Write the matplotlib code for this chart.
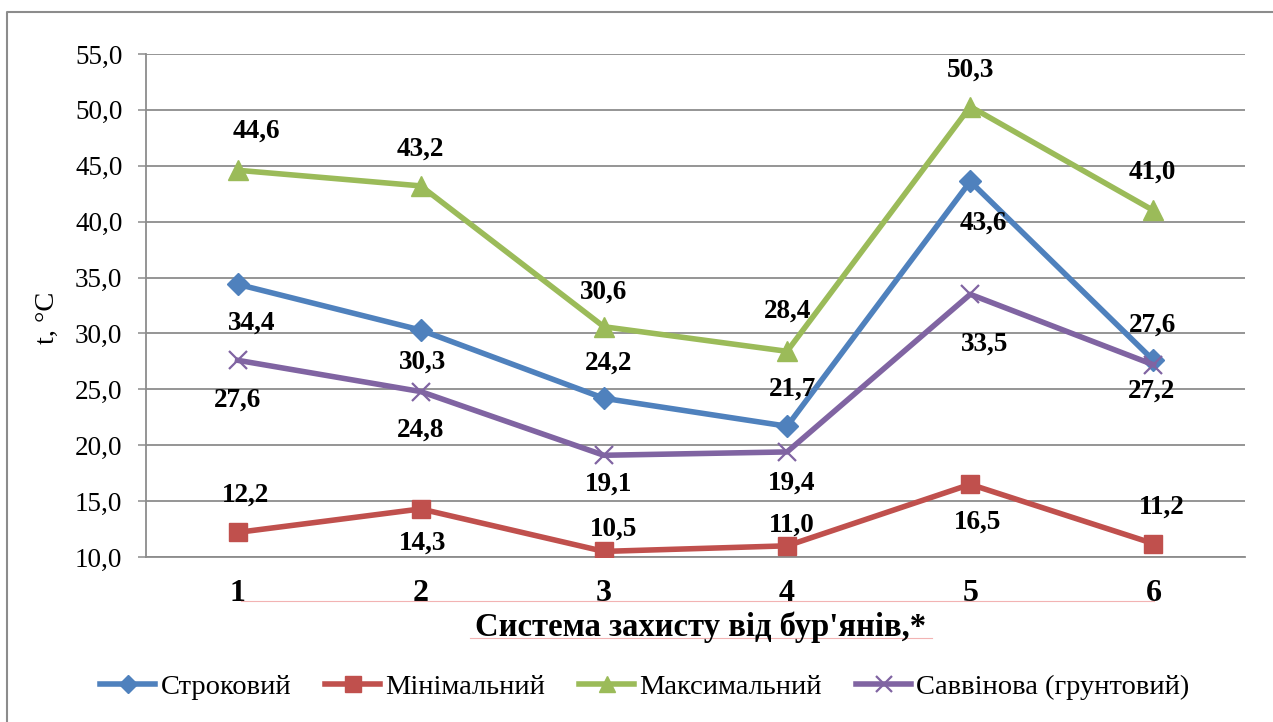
import matplotlib
matplotlib.use("Agg")
import matplotlib.pyplot as plt
from matplotlib.lines import Line2D
from matplotlib.ticker import FuncFormatter

W, H = 1273, 722

categories = ["1", "2", "3", "4", "5", "6"]
names = ["Строковий", "Мінімальний", "Максимальний", "Саввінова (грунтовий)"]

strokovyi = [34.4, 30.3, 24.2, 21.7, 43.6, 27.6]
minimalnyi = [12.2, 14.3, 10.5, 11.0, 16.5, 11.2]
maksymalnyi = [44.6, 43.2, 30.6, 28.4, 50.3, 41.0]
savvinova = [27.6, 24.8, 19.1, 19.4, 33.5, 27.2]

# label offsets in pixels (dx right, dy down)
off_strokovyi = [(14, 39), (2, 32), (5, -35), (5, -37), (13, 42), (-1, -35)]
off_minimalnyi = [(8, -37), (2, 34), (10, -22), (5, -21), (7, 38), (8, -36)]
off_maksymalnyi = [(19, -39), (0, -37), (0, -35), (0, -40), (0, -36), (-1, -38)]
off_savvinova = [(0, 40), (0, 39), (5, 29), (5, 31), (14, 50), (-2, 26)]

colors = ["#4F81BD", "#C0504D", "#9BBB59", "#8064A2"]
GRID = "#8C8C8C"
FONT = "Liberation Serif"

plt.rcParams["font.family"] = [FONT, "DejaVu Serif"]


def fx(px):
    return px / W


def fy(py):
    return 1 - py / H


fig = plt.figure(figsize=(W / 100, H / 100), dpi=100)
ax = fig.add_axes([fx(146), fy(557), fx(1245) - fx(146), fy(54) - fy(557)])

x = list(range(1, len(categories) + 1))
series = [
    (strokovyi, "D", 11, off_strokovyi),
    (minimalnyi, "s", 13, off_minimalnyi),
    (maksymalnyi, "^", 14, off_maksymalnyi),
    (savvinova, "x", 13, off_savvinova),
]

handles = []
for (vals, mk, ms, offs), c, name in zip(series, colors, names):
    mew = 1.6 if mk == "x" else 1
    ln, = ax.plot(x, vals, color=c, lw=4, marker=mk, ms=ms,
                  mec=c, mfc=c, mew=mew, label=name, zorder=3)
    handles.append(ln)
    for xi, v, (dx, dy) in zip(x, vals, offs):
        ax.annotate(f"{v:.1f}".replace(".", ","), (xi, v),
                    xytext=(dx, -dy), textcoords="offset pixels",
                    ha="center", va="center", fontsize=19.5,
                    fontweight="bold", zorder=4)

ax.set_xlim(0.5, len(categories) + 0.5)
ax.set_ylim(10, 55)
ax.set_yticks([10, 15, 20, 25, 30, 35, 40, 45, 50, 55])
ax.yaxis.set_major_formatter(FuncFormatter(lambda v, p: f"{v:.1f}".replace(".", ",")))
ax.set_xticks(x)
ax.set_xticklabels(categories, fontsize=23, fontweight="bold")
ax.grid(axis="y", color=GRID, lw=1.3, zorder=0)
ax.set_axisbelow(True)

for s in ["top", "right"]:
    ax.spines[s].set_visible(False)
for s in ["left", "bottom"]:
    ax.spines[s].set_color(GRID)
    ax.spines[s].set_linewidth(1.3)

ax.tick_params(axis="y", direction="out", length=6, width=1.1, color=GRID,
               labelsize=19.5, pad=11)
ax.tick_params(axis="x", length=0, pad=16)

fig.text(fx(47), fy(318), "t, °C", rotation=90, ha="center", va="center",
         fontsize=20.5)
fig.text(fx(701), fy(627), "Система захисту від бур'янів,*", ha="center",
         va="center", fontsize=23.5, fontweight="bold")

# faint spell-check underlines and outer frame
pink = "#F2B3B3"
fig.add_artist(Line2D([fx(241), fx(1154)], [fy(601), fy(601)], color=pink, lw=0.8))
fig.add_artist(Line2D([fx(470), fx(932)], [fy(638), fy(638)], color=pink, lw=0.8))
fig.add_artist(Line2D([fx(7), fx(7), fx(1273)], [fy(722), fy(12), fy(12)],
                      color=GRID, lw=1.5))

fig.legend(handles=handles, loc="center", bbox_to_anchor=(fx(645), fy(687)),
           ncol=4, frameon=False, fontsize=20.5, handlelength=1.93,
           handletextpad=0.18, columnspacing=1.2, markerscale=0.85)

fig.savefig("out.png", dpi=100)
